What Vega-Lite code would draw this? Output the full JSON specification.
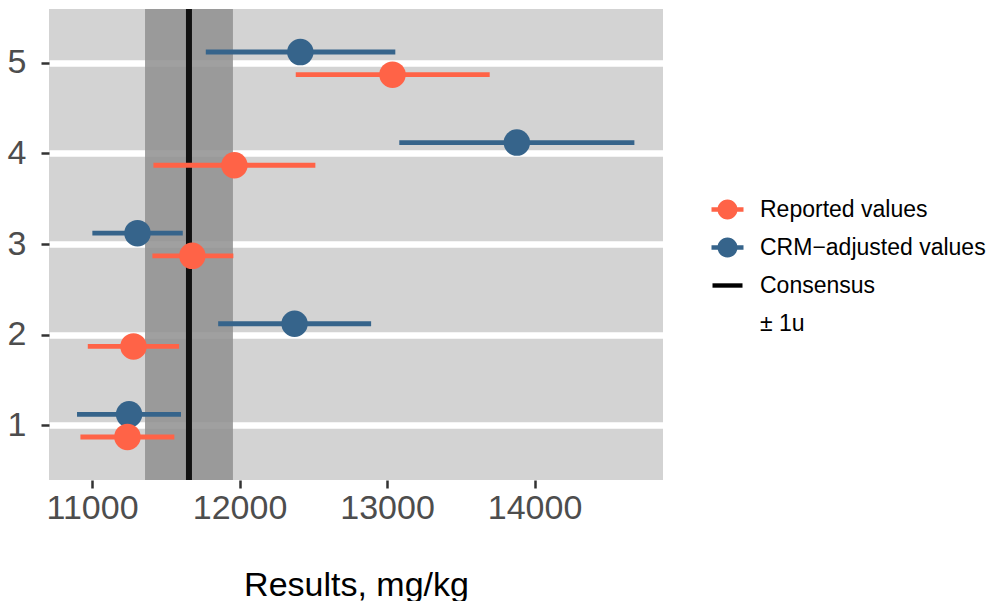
{
  "$schema": "https://vega.github.io/schema/vega-lite/v6.json",
  "width": 614,
  "height": 471,
  "autosize": {"type": "none"},
  "padding": {"left": 49, "top": 9, "right": 333, "bottom": 121},
  "background": "white",
  "config": {
    "font": "Liberation Sans",
    "view": {"fill": "#d3d3d3", "stroke": null},
    "axis": {
      "labelFont": "Liberation Sans",
      "labelFontSize": 34,
      "labelColor": "#4d4d4d",
      "tickColor": "#333333",
      "tickWidth": 2.5,
      "tickSize": 8,
      "domain": false,
      "grid": false,
      "titleFont": "Liberation Sans",
      "titleFontWeight": "normal",
      "titleColor": "black",
      "titleFontSize": 34
    },
    "legend": {
      "orient": "none",
      "legendX": 667,
      "legendY": 189,
      "padding": 0,
      "labelFont": "Liberation Sans",
      "labelFontSize": 23,
      "labelColor": "black",
      "labelLimit": 0,
      "labelOffset": 21,
      "rowPadding": 14,
      "symbolSize": 400,
      "symbolStrokeWidth": 0
    }
  },
  "datasets": {
    "labs": [
      {"lab": 1, "series": "CRM−adjusted values", "result": 11251, "lower": 10898, "upper": 11603},
      {"lab": 1, "series": "Reported values", "result": 11240, "lower": 10921, "upper": 11558},
      {"lab": 2, "series": "CRM−adjusted values", "result": 12373, "lower": 11855, "upper": 12892},
      {"lab": 2, "series": "Reported values", "result": 11281, "lower": 10971, "upper": 11590},
      {"lab": 3, "series": "CRM−adjusted values", "result": 11308, "lower": 11002, "upper": 11615},
      {"lab": 3, "series": "Reported values", "result": 11680, "lower": 11409, "upper": 11958},
      {"lab": 4, "series": "CRM−adjusted values", "result": 13880, "lower": 13083, "upper": 14677},
      {"lab": 4, "series": "Reported values", "result": 11965, "lower": 11416, "upper": 12514},
      {"lab": 5, "series": "CRM−adjusted values", "result": 12412, "lower": 11771, "upper": 13056},
      {"lab": 5, "series": "Reported values", "result": 13037, "lower": 12381, "upper": 13696}
    ],
    "consensus": [
      {"value": 11657, "lower": 11359, "upper": 11955}
    ]
  },
  "layer": [
    {
      "data": {"name": "consensus"},
      "mark": {"type": "rect", "fill": "#8f8f8f", "opacity": 0.85},
      "encoding": {
        "x": {
          "field": "lower",
          "type": "quantitative",
          "scale": {"domain": [10708, 14871], "nice": false, "zero": false},
          "axis": {
            "values": [11000, 12000, 13000, 14000],
            "format": "d",
            "title": "Results, mg/kg",
            "labelPadding": 3,
            "titlePadding": 43
          }
        },
        "x2": {"field": "upper"}
      }
    },
    {
      "data": {"name": "consensus"},
      "mark": {"type": "rule", "color": "#111111", "strokeWidth": 6},
      "encoding": {
        "x": {"field": "value", "type": "quantitative"}
      }
    },
    {
      "data": {"name": "labs"},
      "mark": {"type": "rule", "strokeWidth": 4.8},
      "encoding": {
        "x": {"field": "lower", "type": "quantitative"},
        "x2": {"field": "upper"},
        "y": {
          "field": "lab",
          "type": "ordinal",
          "sort": "descending",
          "scale": {"paddingInner": 0, "paddingOuter": 0.1},
          "axis": {
            "title": null,
            "grid": true,
            "gridColor": "white",
            "gridWidth": 6.5,
            "bandPosition": 0.5,
            "labelPadding": 15,
            "labelAngle": 0
          }
        },
        "yOffset": {
          "field": "series",
          "type": "nominal",
          "sort": ["CRM−adjusted values", "Reported values"],
          "scale": {"paddingInner": 0, "paddingOuter": 1}
        },
        "color": {
          "field": "series",
          "type": "nominal",
          "scale": {
            "domain": ["Reported values", "CRM−adjusted values", "Consensus", "± 1u"],
            "range": ["#ff6347", "#36648b", "#000000", "transparent"]
          }
        }
      }
    },
    {
      "data": {"name": "labs"},
      "mark": {"type": "point", "filled": true, "size": 700, "opacity": 1},
      "encoding": {
        "x": {"field": "result", "type": "quantitative"},
        "y": {"field": "lab", "type": "ordinal", "sort": "descending"},
        "yOffset": {
          "field": "series",
          "type": "nominal",
          "sort": ["CRM−adjusted values", "Reported values"]
        },
        "color": {
          "field": "series",
          "type": "nominal",
          "legend": {
            "title": null,
            "symbolType": {"expr": "datum.value === 'Consensus' ? 'M-1.5,-0.22L1.5,-0.22L1.5,0.22L-1.5,0.22Z' : 'M-1.6,-0.22L1.6,-0.22L1.6,0.22L-1.6,0.22Z M1,0A1,1,0,1,1,-1,0A1,1,0,1,1,1,0Z'"}
          }
        }
      }
    }
  ]
}
